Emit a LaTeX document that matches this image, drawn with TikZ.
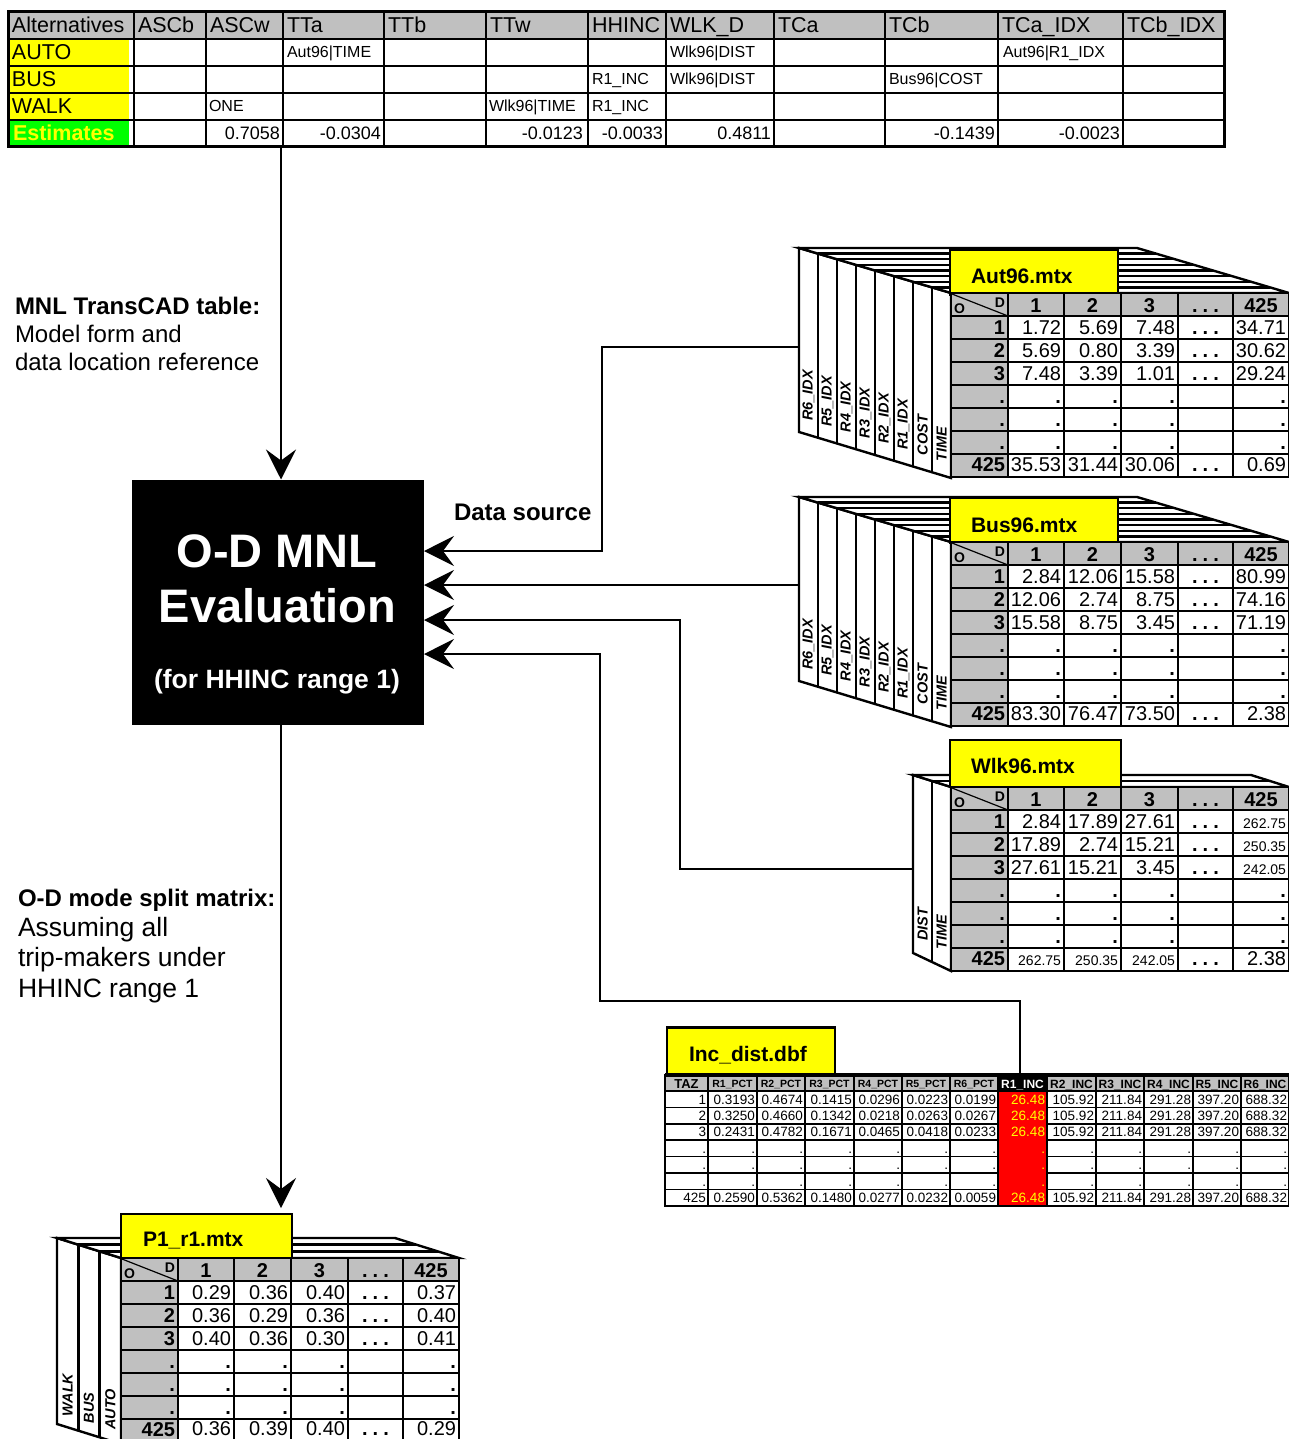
\documentclass[tikz,border=0pt]{standalone}
\usepackage{fontspec}
\setmainfont{Liberation Sans}
\usetikzlibrary{arrows.meta}
\definecolor{hgrey}{HTML}{C0C0C0}
\definecolor{yel}{HTML}{FFFF00}
\definecolor{grn}{HTML}{00FF00}
\definecolor{redc}{HTML}{FF0000}
\newcommand{\fs}[1]{\fontsize{#1}{#1}\selectfont}
\newcommand{\mdots}{.\hspace{5pt}.\hspace{5pt}.}
\newcommand{\bd}{\textbf{.}}

\tikzset{
  every node/.style={inner sep=0pt, outer sep=0pt},
  gridline/.style={line width=2.4pt},
  tgrid/.style={line width=2.6pt},
  incgrid/.style={line width=1.5pt},
  stackline/.style={line width=2.4pt, line join=miter},
  conn/.style={line width=1.8pt, -{Stealth[length=30pt,width=30pt,inset=11pt]}},
  titlebox/.style={fill=yel, draw=black, line width=2.6pt},
  titletext/.style={anchor=base west, font=\fs{21}\bfseries},
  hdr/.style={anchor=base west, font=\fs{21.5}},
  tcell/.style={anchor=base west, font=\fs{16}},
  est/.style={anchor=base east, font=\fs{18}},
  striplab/.style={rotate=90, anchor=west, font=\fs{14.5}\bfseries\itshape},
  lbl/.style={anchor=base west, font=\fs{24}},
}

% stack of sheets: #1 x0, #2 y0, #3 n, #4 dx, #5 dy, #6 width, #7 left bottom y, #8 front bottom y
\newcommand{\drawstack}[8]{%
  \pgfmathsetmacro{\sxf}{#1+#3*#4}%
  \pgfmathsetmacro{\syf}{#2+#3*#5}%
  \pgfmathtruncatemacro{\snm}{#3-1}%
  \filldraw[stackline, fill=white] (#1,#2) -- (\sxf,\syf) -- (\sxf,#8) -- (#1,#7) -- cycle;
  \foreach \k in {1,...,\snm} {
    \draw[stackline] ({#1+\k*#4},{#2+\k*#5}) -- ({#1+\k*#4},{#7+\k*(#8-#7)/#3});
  }
  \filldraw[stackline, fill=white] (#1,#2) -- ({#1+#6},#2) -- ({\sxf+#6},\syf) -- (\sxf,\syf) -- cycle;
  \foreach \k in {1,...,\snm} {
    \draw[stackline] ({#1+\k*#4},{#2+\k*#5}) -- ({#1+#6+\k*#4},{#2+\k*#5});
  }
}

% front matrix table: #1 x0, #2 y0, #3 prefix
\newcommand{\mtxgrid}[3]{%
  \begin{scope}[shift={(#1,#2)}]
    \fill[hgrey] (0,0) rectangle (338,23);
    \fill[hgrey] (0,23) rectangle (57,184);
    \fill[white] (57,23) rectangle (338,184);
    \draw[line width=1.2pt] (1,1) -- (57,23);
    \foreach \xx in {57,113,170,227,282} \draw[gridline] (\xx,0) -- (\xx,184);
    \foreach \yy in {23,46,...,161} \draw[gridline] (0,\yy) -- (338,\yy);
    \draw[gridline] (0,0) rectangle (338,184);
    \node[anchor=base west, font=\fs{14}\bfseries] (#3-O) at (3,20.5) {O};
    \node[anchor=base east, font=\fs{14}\bfseries] (#3-D) at (54,14) {D};
    \foreach \lab/\cx [count=\i] in {1/85,2/141.5,3/198.5,\mdots/254.5,425/310}
      \node[anchor=base, font=\fs{20}\bfseries] (#3-h\i) at (\cx,19) {\lab};
    \foreach \lab [count=\i] in {1,2,3,.,.,.}
      \node[anchor=base east, font=\fs{20}\bfseries] (#3-r\i) at (54,{23*\i+18.7}) {\lab};
    \node[anchor=base east, font=\fs{20}\bfseries] (#3-r7) at (54,{23*7+17.5}) {425};
  \end{scope}}

% one data row: #1 name prefix, #2 x0, #3 y0, #4 row index, #5..#9 cells
\newcommand{\mtxrow}[9]{%
  \begin{scope}[shift={(#2,#3)}]
    \node[anchor=base east, font=\fs{20}] (#1a) at (110,{23*#4+18.7}) {#5};
    \node[anchor=base east, font=\fs{20}] (#1b) at (167,{23*#4+18.7}) {#6};
    \node[anchor=base east, font=\fs{20}] (#1c) at (224,{23*#4+18.7}) {#7};
    \node[anchor=base, font=\fs{20}\bfseries] (#1d) at (254.5,{23*#4+18.7}) {#8};
    \node[anchor=base east, font=\fs{20}] (#1e) at (335,{23*#4+18.7}) {#9};
  \end{scope}}

\begin{document}
\begin{tikzpicture}[x=1pt,y=-1pt]
\useasboundingbox (0,0) rectangle (1289,1439);
\fill[white] (0,0) rectangle (1289,1439);

% ================= top table =================
\fill[hgrey] (8,12) rectangle (1224,39);
\fill[yel] (8,39) rectangle (129,120);
\fill[grn] (8,120) rectangle (129,147);
\foreach \xx in {134,206,283,384,486,588,666,774,885,998,1123} \draw[tgrid] (\xx,12) -- (\xx,147);
\foreach \yy in {39,66,93,120} \draw[tgrid] (8,\yy) -- (1224,\yy);
\draw[line width=3pt] (8,12) rectangle (1224,147);

\node[hdr] (hAlt) at (12,33) {Alternatives};
\node[hdr] (hASCb) at (138,33) {ASCb};
\node[hdr] (hASCw) at (210,33) {ASCw};
\node[hdr] (hTTa) at (287,33) {TTa};
\node[hdr] (hTTb) at (388,33) {TTb};
\node[hdr] (hTTw) at (490,33) {TTw};
\node[hdr] (hHH) at (592,33) {HHINC};
\node[hdr] (hWLK) at (670,33) {WLK\_D};
\node[hdr] (hTCa) at (778,33) {TCa};
\node[hdr] (hTCb) at (889,33) {TCb};
\node[hdr] (hTCaI) at (1002,33) {TCa\_IDX};
\node[hdr] (hTCbI) at (1127,33) {TCb\_IDX};

\node[hdr] (aAUTO) at (12,60) {AUTO};
\node[hdr] (aBUS) at (12,87) {BUS};
\node[hdr] (aWALK) at (12,114) {WALK};
\node[hdr, font=\fs{21.5}\bfseries, text=yel] (aEst) at (13,141) {Estimates};

\node[tcell] (c11) at (287,58) {Aut96\textbar TIME};
\node[tcell] (c12) at (670,58) {Wlk96\textbar DIST};
\node[tcell] (c13) at (1003,58) {Aut96\textbar R1\_IDX};
\node[tcell] (c21) at (592,85) {R1\_INC};
\node[tcell] (c22) at (670,85) {Wlk96\textbar DIST};
\node[tcell] (c23) at (889,85) {Bus96\textbar COST};
\node[tcell] (c31) at (209,112) {ONE};
\node[tcell] (c32) at (489,112) {Wlk96\textbar TIME};
\node[tcell] (c33) at (592,112) {R1\_INC};

\node[est] (e1) at (280,140) {0.7058};
\node[est] (e2) at (381,140) {-0.0304};
\node[est] (e3) at (583,140) {-0.0123};
\node[est] (e4) at (663,140) {-0.0033};
\node[est] (e5) at (771,140) {0.4811};
\node[est] (e6) at (995,140) {-0.1439};
\node[est] (e7) at (1120,140) {-0.0023};

% ================= side labels =================
\node[lbl, font=\fs{24}\bfseries] (l1) at (15,314) {MNL TransCAD table:};
\node[lbl] (l2) at (15,342) {Model form and};
\node[lbl] (l3) at (15,370) {data location reference};
\node[lbl, font=\fs{24}\bfseries] (ds) at (454,520) {Data source};
\node[lbl, font=\fs{24}\bfseries] (m1) at (18,906) {O-D mode split matrix:};
\node[lbl, font=\fs{26.5}] (m2) at (18,936) {Assuming all};
\node[lbl, font=\fs{26.5}] (m3) at (18,966) {trip-makers under};
\node[lbl, font=\fs{26.5}] (m4) at (18,997) {HHINC range 1};

% ================= central box =================
\node[fill=black, minimum width=292pt, minimum height=245pt] (mnl) at (278,602) {};
\node[anchor=base, text=white, font=\fs{47}\bfseries] (mnlt1) at (277,567) {O-D MNL};
\node[anchor=base, text=white, font=\fs{47}\bfseries] (mnlt2) at (277.5,622) {Evaluation};
\node[anchor=base, text=white, font=\fs{26.5}\bfseries] (mnlt3) at (277,688) {(for HHINC range 1)};

% ================= Aut96 =================
\drawstack{799}{248}{8}{19}{5.625}{338}{432}{478}
\node[titlebox, minimum width=168pt, minimum height=45pt] (auttitle) at (1034,272.5) {};
\node[titletext] (auttxt) at (971,283) {Aut96.mtx};
\mtxgrid{951}{293}{aut}
\mtxrow{aut1}{951}{293}{1}{1.72}{5.69}{7.48}{\mdots}{34.71}
\mtxrow{aut2}{951}{293}{2}{5.69}{0.80}{3.39}{\mdots}{30.62}
\mtxrow{aut3}{951}{293}{3}{7.48}{3.39}{1.01}{\mdots}{29.24}
\mtxrow{aut4}{951}{293}{4}{\bd}{\bd}{\bd}{}{\bd}
\mtxrow{aut5}{951}{293}{5}{\bd}{\bd}{\bd}{}{\bd}
\mtxrow{aut6}{951}{293}{6}{\bd}{\bd}{\bd}{}{\bd}
\mtxrow{aut7}{951}{292}{7}{35.53}{31.44}{30.06}{\mdots}{0.69}
\foreach \lab [count=\i from 0] in {R6\_IDX,R5\_IDX,R4\_IDX,R3\_IDX,R2\_IDX,R1\_IDX,COST,TIME}
  \node[striplab] (auts\i) at ({808.5+19*\i},{432+5.75*(\i+0.5)-14}) {\lab};

% ================= Bus96 =================
\drawstack{799}{497}{8}{19}{5.625}{338}{681}{727}
\node[titlebox, minimum width=168pt, minimum height=45pt] (bustitle) at (1034,520.5) {};
\node[titletext] (bustxt) at (971,532) {Bus96.mtx};
\mtxgrid{951}{542}{bus}
\mtxrow{bus1}{951}{542}{1}{2.84}{12.06}{15.58}{\mdots}{80.99}
\mtxrow{bus2}{951}{542}{2}{12.06}{2.74}{8.75}{\mdots}{74.16}
\mtxrow{bus3}{951}{542}{3}{15.58}{8.75}{3.45}{\mdots}{71.19}
\mtxrow{bus4}{951}{542}{4}{\bd}{\bd}{\bd}{}{\bd}
\mtxrow{bus5}{951}{542}{5}{\bd}{\bd}{\bd}{}{\bd}
\mtxrow{bus6}{951}{542}{6}{\bd}{\bd}{\bd}{}{\bd}
\mtxrow{bus7}{951}{541}{7}{83.30}{76.47}{73.50}{\mdots}{2.38}
\foreach \lab [count=\i from 0] in {R6\_IDX,R5\_IDX,R4\_IDX,R3\_IDX,R2\_IDX,R1\_IDX,COST,TIME}
  \node[striplab] (buss\i) at ({808.5+19*\i},{681+5.75*(\i+0.5)-14}) {\lab};

% ================= Wlk96 =================
\drawstack{913}{775}{2}{19}{6}{338}{953}{971}
\node[titlebox, minimum width=171pt, minimum height=47pt] (wlktitle) at (1035.5,763.5) {};
\node[titletext] (wlktxt) at (971,773) {Wlk96.mtx};
\mtxgrid{951}{787}{wlk}
\mtxrow{wlk1}{951}{787}{1}{2.84}{17.89}{27.61}{\mdots}{\fs{14}262.75}
\mtxrow{wlk2}{951}{787}{2}{17.89}{2.74}{15.21}{\mdots}{\fs{14}250.35}
\mtxrow{wlk3}{951}{787}{3}{27.61}{15.21}{3.45}{\mdots}{\fs{14}242.05}
\mtxrow{wlk4}{951}{787}{4}{\bd}{\bd}{\bd}{}{\bd}
\mtxrow{wlk5}{951}{787}{5}{\bd}{\bd}{\bd}{}{\bd}
\mtxrow{wlk6}{951}{787}{6}{\bd}{\bd}{\bd}{}{\bd}
\mtxrow{wlk7}{951}{786}{7}{\fs{14}262.75}{\fs{14}250.35}{\fs{14}242.05}{\mdots}{2.38}
\foreach \lab [count=\i from 0] in {DIST,TIME}
  \node[striplab] (wlks\i) at ({922.5+19*\i},{953+9*(\i+0.5)-17}) {\lab};

% ================= P1_r1 =================
\drawstack{57}{1238}{3}{21.333}{6.667}{338}{1424}{1444}
\node[titlebox, minimum width=171pt, minimum height=44pt] (p1title) at (206.5,1236) {};
\node[titletext] (p1txt) at (143,1246) {P1\_r1.mtx};
\mtxgrid{121}{1258}{p1}
\mtxrow{p1r1}{121}{1258}{1}{0.29}{0.36}{0.40}{\mdots}{0.37}
\mtxrow{p1r2}{121}{1258}{2}{0.36}{0.29}{0.36}{\mdots}{0.40}
\mtxrow{p1r3}{121}{1258}{3}{0.40}{0.36}{0.30}{\mdots}{0.41}
\mtxrow{p1r4}{121}{1258}{4}{\bd}{\bd}{\bd}{}{\bd}
\mtxrow{p1r5}{121}{1258}{5}{\bd}{\bd}{\bd}{}{\bd}
\mtxrow{p1r6}{121}{1258}{6}{\bd}{\bd}{\bd}{}{\bd}
\mtxrow{p1r7}{121}{1255.5}{7}{0.36}{0.39}{0.40}{\mdots}{0.29}
\foreach \lab [count=\i from 0] in {WALK,BUS,AUTO}
  \node[striplab] (p1s\i) at ({67.67+21.333*\i},{1424+6.67*(\i+0.5)-11}) {\lab};

% ================= Inc_dist =================
\node[titlebox, minimum width=168pt, minimum height=47pt] (inctitle) at (751,1051) {};
\node[titletext] (inctxt) at (689,1061) {Inc\_dist.dbf};
\fill[hgrey] (665,1075) rectangle (1289,1091);
\fill[black] (998,1075) rectangle (1047,1091);
\fill[redc] (998,1091) rectangle (1047,1206);
\foreach \xx in {708,757,805,854,902,950,998,1047,1096,1144,1193,1241}
  \draw[incgrid] (\xx,1075) -- (\xx,1206);
\draw[incgrid] (665,1091) -- (1289,1091);
\foreach \yy in {1107.4,1123.8,1140.2,1156.6,1173,1189.4} {
  \draw[incgrid] (665,\yy) -- (998,\yy);
  \draw[incgrid] (1047,\yy) -- (1289,\yy);
}
\draw[incgrid] (665,1075) rectangle (1289,1206);
\draw[line width=3.5pt] (665,1075) -- (1289,1075);
\node[anchor=base, font=\fs{13}\bfseries] (ih0) at (686.5,1088) {TAZ};
\foreach \lab/\cx [count=\c] in {R1\_PCT/732.5,R2\_PCT/781,R3\_PCT/829.5,R4\_PCT/878,R5\_PCT/926,R6\_PCT/974}
  \node[anchor=base, font=\fs{10.5}\bfseries] (ihp\c) at (\cx,1087.5) {\lab};
\node[anchor=base, font=\fs{12}\bfseries, text=white] (ihi1) at (1022.5,1088) {R1\_INC};
\foreach \lab/\cx [count=\c] in {R2\_INC/1071.5,R3\_INC/1120,R4\_INC/1168.5,R5\_INC/1217,R6\_INC/1265}
  \node[anchor=base, font=\fs{12}\bfseries] (ihi\c x) at (\cx,1088) {\lab};
\def\incRight{{706,755,803,852,900,948,996,1045,1094,1142,1191,1239,1287}}
\foreach \rowv [count=\r] in {%
  {1,0.3193,0.4674,0.1415,0.0296,0.0223,0.0199,26.48,105.92,211.84,291.28,397.20,688.32},
  {2,0.3250,0.4660,0.1342,0.0218,0.0263,0.0267,26.48,105.92,211.84,291.28,397.20,688.32},
  {3,0.2431,0.4782,0.1671,0.0465,0.0418,0.0233,26.48,105.92,211.84,291.28,397.20,688.32},
  {.,.,.,.,.,.,.,.,.,.,.,.,.},
  {.,.,.,.,.,.,.,.,.,.,.,.,.},
  {.,.,.,.,.,.,.,.,.,.,.,.,.},
  {425,0.2590,0.5362,0.1480,0.0277,0.0232,0.0059,26.48,105.92,211.84,291.28,397.20,688.32}} {
  \foreach \v [count=\c] in \rowv {
    \pgfmathsetmacro{\xr}{\incRight[\c-1]}
    \ifnum\c=8 \def\tcol{yel}\else\def\tcol{black}\fi
    \node[anchor=base east, font=\fs{13.5}, text=\tcol] (inc-\r-\c) at (\xr,{1091+16.43*(\r-0.5)+4.8}) {\v};
  }
}

% ================= connectors =================
\coordinate (tblS) at (281,148);
\coordinate (autL) at (799,347);
\coordinate (busL) at (799,585);
\coordinate (wlkL) at (913,869);
\coordinate (incR1) at (1020,1074);
\draw[conn] (tblS) -- (tblS |- mnl.north);
\draw[conn] (autL) -- (602,347) |- ([yshift=51pt]mnl.east);
\draw[conn] (busL) -- ([yshift=17pt]mnl.east);
\draw[conn] (wlkL) -- (680,869) |- ([yshift=-18pt]mnl.east);
\draw[conn] (incR1) |- (600,1001) |- ([yshift=-52pt]mnl.east);
\draw[conn, shorten >=6pt] (tblS |- mnl.south) -- (tblS |- p1title.north);
\end{tikzpicture}
\end{document}
